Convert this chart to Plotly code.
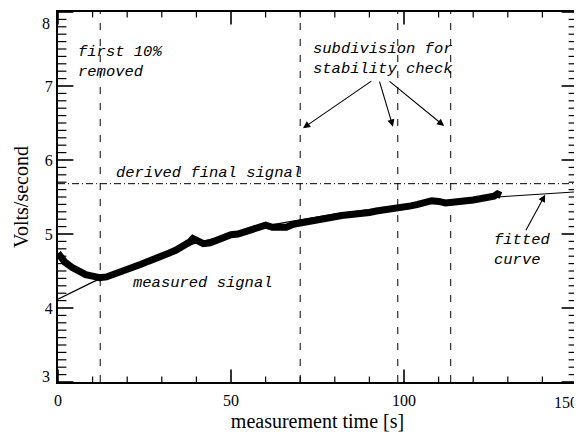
"""Measured signal vs time with fitted curve and stability subdivisions."""

import plotly.graph_objects as go

# measured signal (Volts/second), every 2 s
meas_time = [0, 1, 2, 4, 6, 8, 10, 12, 14, 16, 18, 20, 22, 24, 26, 28, 30,
             32, 34, 36, 38, 39, 40, 42, 44, 46, 48, 50, 52, 54, 56, 58, 60,
             62, 64, 66, 68, 70, 72, 74, 76, 78, 80, 82, 84, 86, 88, 90, 92,
             94, 96, 98, 100, 102, 104, 106, 108, 110, 112, 114, 116, 118,
             120, 122, 124, 126, 127, 128]
meas_signal = [4.74, 4.68, 4.62, 4.55, 4.49, 4.45, 4.43, 4.41, 4.42, 4.45,
               4.48, 4.51, 4.55, 4.59, 4.63, 4.66, 4.70, 4.74, 4.78, 4.83,
               4.89, 4.94, 4.92, 4.87, 4.88, 4.92, 4.96, 4.99, 5.00, 5.03,
               5.07, 5.11, 5.12, 5.09, 5.08, 5.09, 5.13, 5.15, 5.17, 5.19,
               5.20, 5.22, 5.24, 5.25, 5.26, 5.27, 5.26, 5.29, 5.31, 5.32,
               5.34, 5.35, 5.37, 5.38, 5.40, 5.42, 5.45, 5.44, 5.42, 5.43,
               5.45, 5.45, 5.46, 5.47, 5.49, 5.51, 5.54, 5.52]

# fitted curve, read every 10 s
fit_time = [0, 10, 20, 30, 40, 50, 60, 70, 80, 90, 100, 110, 120, 130, 140, 150]
fit_signal = [4.12, 4.35, 4.55, 4.73, 4.88, 5.00, 5.11, 5.19, 5.27, 5.33,
              5.38, 5.43, 5.47, 5.51, 5.54, 5.57]

cut_times = [12.2, 70.0, 98.2, 113.5]   # "first 10% removed" + subdivisions
final_signal = 5.68

x_range = [0, 150]
y_range = [3, 8]
x_ticks = [0, 50, 100, 150]
x_labels = ["0", "50", "100", ""]
x_minor = [10, 20, 30, 40, 60, 70, 80, 90, 110, 120, 130, 140]
y_ticks = [3, 4, 5, 6, 7, 8]
y_labels = ["", "4", "5", "6", "7", ""]
y_minor = [round(3 + 0.1 * i, 1) for i in range(51) if i % 10]

fig = go.Figure()

fig.add_trace(go.Scatter(x=fit_time, y=fit_signal, mode="lines",
                         line=dict(color="black", width=1.2), hoverinfo="skip"))
fig.add_trace(go.Scatter(x=meas_time, y=meas_signal, mode="lines",
                         line=dict(color="black", width=7), hoverinfo="skip"))


# inward tick marks on all four sides: a line marker centred on the box edge,
# clipped by the plot area so only the inner half shows
def tick_marks(vals, along, size, width):
    for edge in (x_range if along == "y" else y_range):
        if along == "y":
            xs, ys, sym = [edge] * len(vals), vals, "line-ew"
        else:
            xs, ys, sym = vals, [edge] * len(vals), "line-ns"
        fig.add_trace(go.Scatter(
            x=xs, y=ys, mode="markers", cliponaxis=True, hoverinfo="skip",
            marker=dict(symbol=sym, size=size,
                        line=dict(color="black", width=width))))


tick_marks(y_ticks, "y", 22, 1.6)
tick_marks(y_minor, "y", 12, 1.2)
tick_marks(x_ticks, "x", 18, 1.6)
tick_marks(x_minor, "x", 8, 1.2)

for t in cut_times:
    fig.add_shape(type="line", x0=t, x1=t, y0=3, y1=8, xref="x", yref="y",
                  line=dict(color="black", width=1, dash="7px,9px"))
fig.add_shape(type="line", x0=0, x1=150, y0=final_signal, y1=final_signal,
              xref="x", yref="y",
              line=dict(color="black", width=1, dash="7px,3px,1px,3px"))

note_font = dict(family="Liberation Mono", size=15.5, color="black",
                 style="italic")


def note(x, y, text):
    fig.add_annotation(x=x, y=y, text=text, showarrow=False, xanchor="left",
                       yanchor="middle", align="left", font=note_font)


note(5.3, 7.33, "first 10%<br>removed")
note(73.2, 7.37, "subdivision for<br>stability check")
note(16.3, 5.82, "derived final signal")
note(21.2, 4.34, "measured signal")
note(125.5, 4.78, "fitted<br>curve")

# arrows: (head x, head y, tail x, tail y)
arrows = [(70.8, 6.43, 91.0, 7.08), (96.8, 6.45, 92.8, 7.08),
          (111.6, 6.46, 95.4, 7.08), (140.8, 5.53, 135.0, 5.03)]
for hx, hy, tx, ty in arrows:
    fig.add_annotation(x=hx, y=hy, ax=tx, ay=ty, xref="x", yref="y",
                       axref="x", ayref="y", text="", showarrow=True,
                       arrowhead=2, arrowsize=1.3, arrowwidth=1.1,
                       arrowcolor="black", standoff=0, startstandoff=0)

label_font = dict(family="Liberation Serif", size=16, color="black")
title_font = dict(family="Liberation Serif", size=20, color="black")

# end labels are pulled inside the box, IDL style
fig.add_annotation(x=150, y=0, xref="x", yref="paper", yanchor="top",
                   xanchor="right", yshift=-10, xshift=3, text="150",
                   showarrow=False, font=label_font)
fig.add_annotation(x=0, y=8, xref="paper", yref="y", xanchor="right",
                   yanchor="middle", xshift=-6, yshift=-11, text="8",
                   showarrow=False, font=label_font)
fig.add_annotation(x=0, y=3, xref="paper", yref="y", xanchor="right",
                   yanchor="middle", xshift=-6, yshift=6, text="3",
                   showarrow=False, font=label_font)

# the page puts the plot 8 px in from the top-left corner
fig.update_layout(
    width=574, height=432,
    margin=dict(l=50, r=5, t=4, b=58),
    plot_bgcolor="white", paper_bgcolor="white",
    showlegend=False,
)
fig.update_xaxes(
    range=x_range, tickmode="array", tickvals=x_ticks, ticktext=x_labels,
    showgrid=False, zeroline=False, showline=True, linecolor="black",
    linewidth=2, mirror=True, ticks="", tickfont=label_font,
    ticklabelstandoff=3,
    title=dict(text="measurement time [s]", standoff=6, font=title_font),
    automargin=False,
)
fig.update_yaxes(
    range=y_range, tickmode="array", tickvals=y_ticks, ticktext=y_labels,
    showgrid=False, zeroline=False, showline=True, linecolor="black",
    linewidth=2, mirror=True, ticks="", tickfont=label_font,
    title=dict(text="Volts/second", standoff=11, font=title_font),
    automargin=False,
)

fig.write_html("out.html")
